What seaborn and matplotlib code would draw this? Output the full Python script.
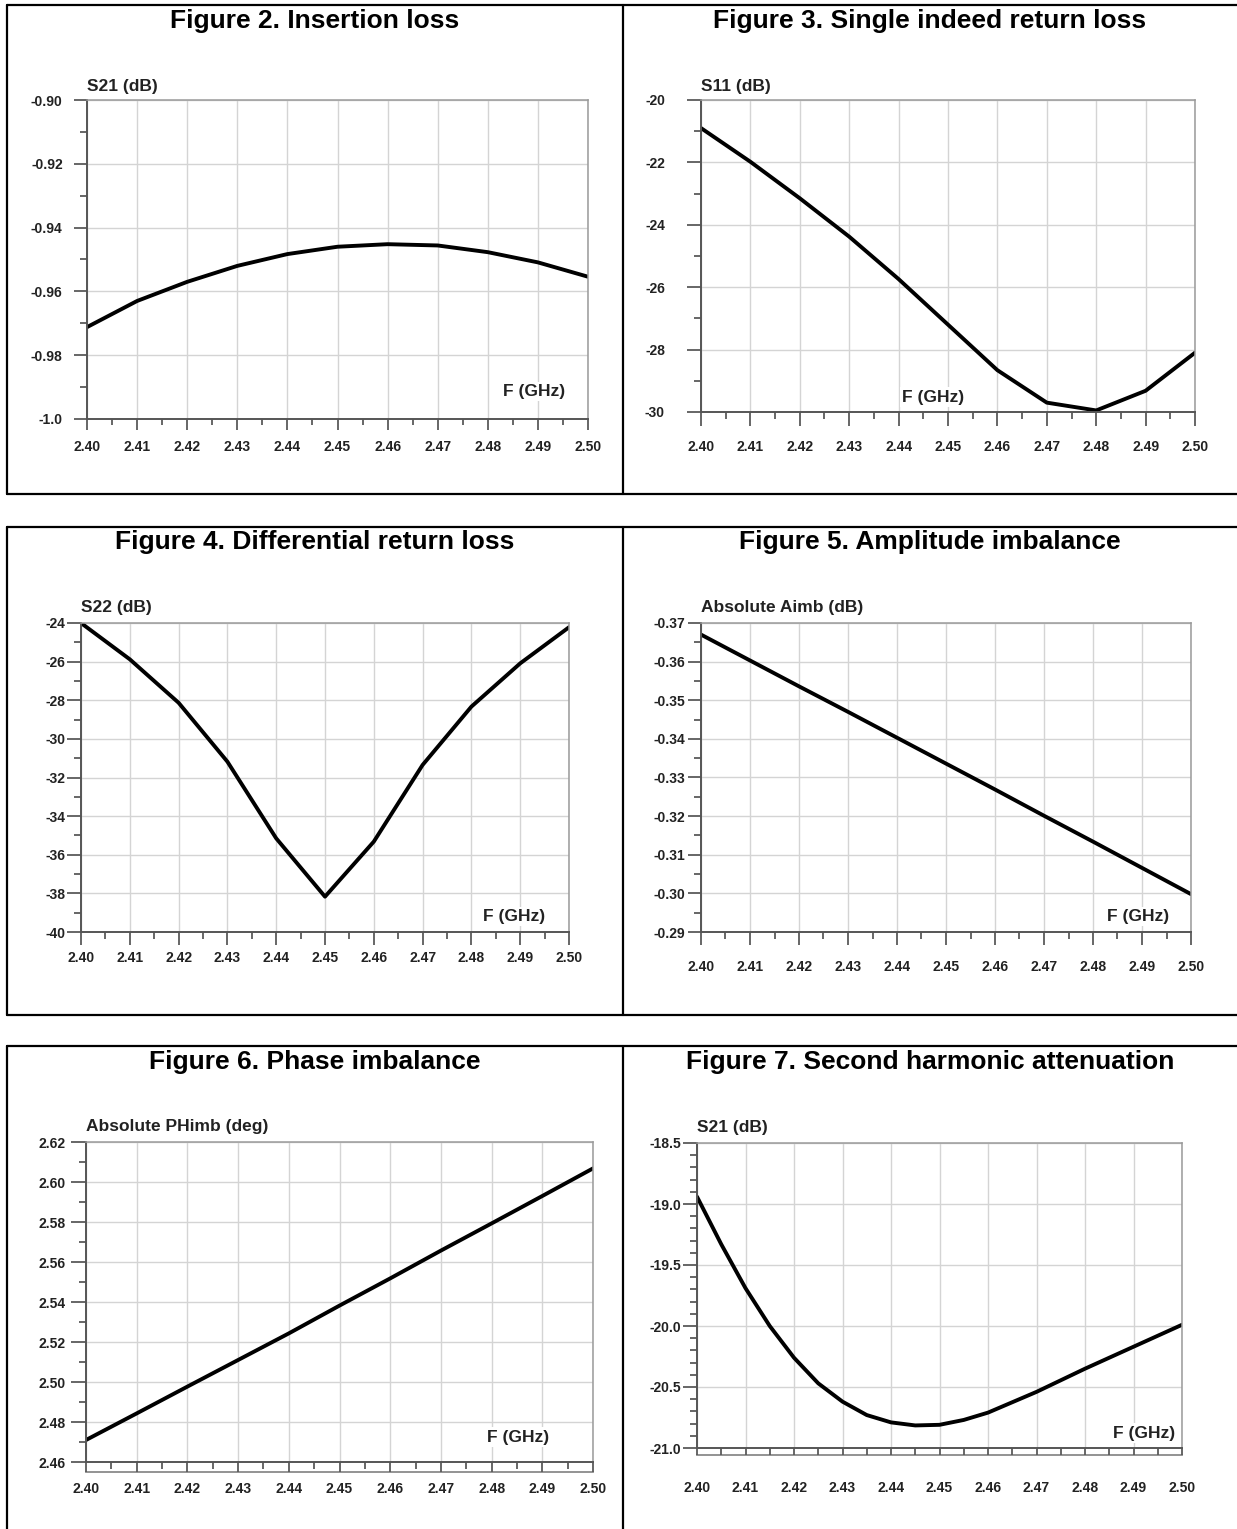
import numpy as np
import pandas as pd
import seaborn as sns
import matplotlib.pyplot as plt
from matplotlib.lines import Line2D
from matplotlib.ticker import MultipleLocator

sns.set_style("white")
plt.rcParams['font.family'] = ['Liberation Sans', 'DejaVu Sans']
plt.rcParams['font.weight'] = 'bold'

# ---- data ----
freq = [2.40, 2.41, 2.42, 2.43, 2.44, 2.45, 2.46, 2.47, 2.48, 2.49, 2.50]
freq_labels = ["2.40", "2.41", "2.42", "2.43", "2.44", "2.45", "2.46", "2.47", "2.48", "2.49", "2.50"]

insertion_loss = [-0.9712, -0.963, -0.957, -0.952, -0.9483, -0.946, -0.9452, -0.9456, -0.9477, -0.9509, -0.9554]
il_yticks = [-0.90, -0.92, -0.94, -0.96, -0.98, -1.00]
il_ylabels = ["-0.90", "-0.92", "-0.94", "-0.96", "-0.98", "-1.0"]

single_rl = [-20.9, -21.98, -23.15, -24.38, -25.74, -27.2, -28.66, -29.7, -29.95, -29.32, -28.1]
srl_yticks = [-20, -22, -24, -26, -28, -30]
srl_ylabels = ["-20", "-22", "-24", "-26", "-28", "-30"]

diff_rl = [-24.0, -25.88, -28.13, -31.18, -35.15, -38.17, -35.32, -31.35, -28.33, -26.09, -24.22]
drl_yticks = [-24, -26, -28, -30, -32, -34, -36, -38, -40]
drl_ylabels = ["-24", "-26", "-28", "-30", "-32", "-34", "-36", "-38", "-40"]

amp_imb = [-0.367, -0.3603, -0.3536, -0.347, -0.3403, -0.3336, -0.3269, -0.3201, -0.3134, -0.3066, -0.2998]
amp_yticks = [-0.37, -0.36, -0.35, -0.34, -0.33, -0.32, -0.31, -0.30, -0.29]
amp_ylabels = ["-0.37", "-0.36", "-0.35", "-0.34", "-0.33", "-0.32", "-0.31", "-0.30", "-0.29"]

phase_imb = [2.471, 2.4843, 2.4977, 2.511, 2.5243, 2.5382, 2.5518, 2.5657, 2.5793, 2.593, 2.6068]
ph_yticks = [2.62, 2.60, 2.58, 2.56, 2.54, 2.52, 2.50, 2.48, 2.46]
ph_ylabels = ["2.62", "2.60", "2.58", "2.56", "2.54", "2.52", "2.50", "2.48", "2.46"]

harm_freq = [2.400, 2.405, 2.410, 2.415, 2.420, 2.425, 2.430, 2.435, 2.440,
             2.445, 2.450, 2.455, 2.460, 2.470, 2.480, 2.490, 2.500]
harm_att = [-18.94, -19.33, -19.69, -20.00, -20.26, -20.47, -20.62, -20.73, -20.79,
            -20.815, -20.81, -20.77, -20.71, -20.54, -20.35, -20.17, -19.99]
ha_yticks = [-18.5, -19.0, -19.5, -20.0, -20.5, -21.0]
ha_ylabels = ["-18.5", "-19.0", "-19.5", "-20.0", "-20.5", "-21.0"]

titles = ["Figure 2. Insertion loss", "Figure 3. Single indeed return loss",
          "Figure 4. Differential return loss", "Figure 5. Amplitude imbalance",
          "Figure 6. Phase imbalance", "Figure 7. Second harmonic attenuation"]
ylabels = ["S21 (dB)", "S11 (dB)", "S22 (dB)", "Absolute Aimb (dB)",
           "Absolute PHimb (deg)", "S21 (dB)"]

panels = [
    dict(x=freq, y=insertion_loss, ylim=(-1.0, -0.90), yt=il_yticks, yl=il_ylabels, ymin=0.01),
    dict(x=freq, y=single_rl, ylim=(-30, -20), yt=srl_yticks, yl=srl_ylabels, ymin=1),
    dict(x=freq, y=diff_rl, ylim=(-40, -24), yt=drl_yticks, yl=drl_ylabels, ymin=1),
    dict(x=freq, y=amp_imb, ylim=(-0.29, -0.37), yt=amp_yticks, yl=amp_ylabels, ymin=0.005),
    dict(x=freq, y=phase_imb, ylim=(2.46, 2.62), yt=ph_yticks, yl=ph_ylabels, ymin=0.01),
    dict(x=harm_freq, y=harm_att, ylim=(-21.0, -18.5), yt=ha_yticks, yl=ha_ylabels, ymin=0.1),
]

# ---- layout (pixels) ----
W, H = 1237, 1529
axes_px = [(87, 100, 588, 419), (701, 100, 1195, 412),
           (81, 623, 569, 932), (701, 623, 1191, 932),
           (86, 1142, 593, 1462), (697, 1143, 1182, 1448)]
title_px = [(315, 21), (930, 21), (315, 542), (930, 542), (315, 1062), (930, 1062)]
fghz_pos = [(0.954, 0.085), (0.532, 0.048), (0.951, 0.049),
            (0.955, 0.049), (0.913, 0.078), (0.986, 0.049)]
ylab_off = [9.5, 9.5, 11, 11.5, 11, 11]
# x: major len, minor len, pad ; y: major len, minor len, pad
tick_cfg = [(8, 4.3, 7, 9.5, 5, 8), (10, 5, 10, 10, 5, 16),
            (9, 5, 4.5, 10, 5, 1.5), (9, 5, 11, 9.5, 5, 2),
            (7.2, 5, 7, 10.5, 5, 4), (5, 5, 19, 10, 5, 1.5)]
second_line = [None, None, None, None, -0.031, -0.023]

fig = plt.figure(figsize=(W / 100, H / 100), dpi=100)

for i, p in enumerate(panels):
    l, t, r, b = axes_px[i]
    ax = fig.add_axes([l / W, 1 - b / H, (r - l) / W, (b - t) / H])
    sns.lineplot(x=p['x'], y=p['y'], ax=ax, color='black', lw=2.8)
    ax.set_xlim(2.40, 2.50)
    ax.set_ylim(*p['ylim'])
    ax.set_xticks(freq)
    ax.set_xticklabels(freq_labels)
    ax.xaxis.set_minor_locator(MultipleLocator(0.005))
    ax.set_yticks(p['yt'])
    ax.set_yticklabels(p['yl'])
    ax.yaxis.set_minor_locator(MultipleLocator(p['ymin']))
    ax.grid(True, which='major', color='#d4d4d4', lw=1.0)
    ax.set_axisbelow(True)
    for s in ['left', 'bottom']:
        ax.spines[s].set_color('#555555')
        ax.spines[s].set_linewidth(1.4)
    for s in ['top', 'right']:
        ax.spines[s].set_color('#9a9a9a')
        ax.spines[s].set_linewidth(1.1)
    xm, xn, xp, ym, yn, yp = tick_cfg[i]
    ax.tick_params(which='both', bottom=True, left=True, top=False, right=False)
    ax.tick_params(axis='x', which='major', direction='out', length=xm, width=1.3,
                   color='#5a5a5a', pad=xp, labelsize=10, labelcolor='#222222')
    ax.tick_params(axis='x', which='minor', direction='out', length=xn, width=1.3, color='#5a5a5a')
    ax.tick_params(axis='y', which='major', direction='out', length=ym, width=1.3,
                   color='#5a5a5a', pad=yp, labelsize=10, labelcolor='#222222')
    ax.tick_params(axis='y', which='minor', direction='out', length=yn, width=1.3, color='#5a5a5a')
    for lab in ax.get_xticklabels() + ax.get_yticklabels():
        lab.set_fontweight('bold')
    ax.set_xlabel("")
    ax.set_ylabel("")
    ax.annotate(ylabels[i], xy=(0, 1), xycoords='axes fraction', xytext=(0, ylab_off[i]),
                textcoords='offset points', ha='left', va='center',
                fontsize=12.5, fontweight='bold', color='#222222')
    fx, fy = fghz_pos[i]
    ax.text(fx, fy, "F (GHz)", transform=ax.transAxes, ha='right', va='center',
            fontsize=12.5, fontweight='bold', color='#222222',
            bbox=dict(facecolor='white', edgecolor='none', pad=1.5))
    if second_line[i] is not None:
        sec = ax.secondary_xaxis(second_line[i])
        sec.set_xticks([])
        sec.spines['bottom'].set_color('#8a8a8a')
        sec.spines['bottom'].set_linewidth(1.3)
    tx, ty = title_px[i]
    fig.text(tx / W, 1 - ty / H, titles[i], ha='center', va='center',
             fontsize=19, fontweight='bold', color='black')

# ---- panel frames ----
def hline(y, x0=7, x1=W):
    fig.add_artist(Line2D([x0 / W, x1 / W], [1 - y / H, 1 - y / H],
                          transform=fig.transFigure, color='black', lw=1.6))

def vline(x, y0, y1):
    fig.add_artist(Line2D([x / W, x / W], [1 - y0 / H, 1 - y1 / H],
                          transform=fig.transFigure, color='black', lw=1.6))

for y in [5, 494, 527, 1015, 1046]:
    hline(y)
for y0, y1 in [(5, 494), (527, 1015), (1046, 1529)]:
    vline(7, y0, y1)
    vline(623, y0, y1)

fig.savefig("out.png", dpi=100, facecolor='white')
